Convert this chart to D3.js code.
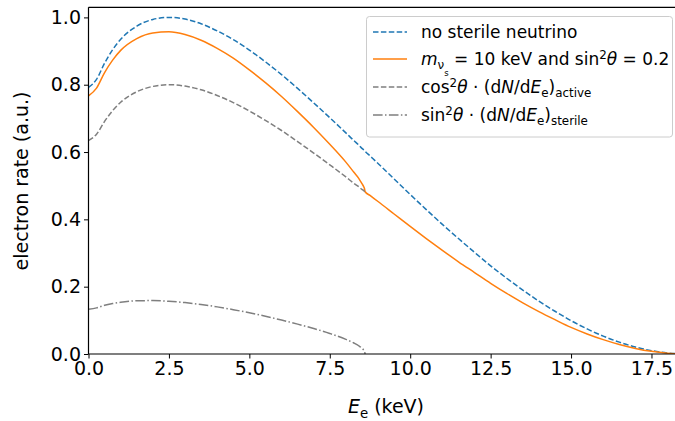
<!DOCTYPE html>
<html><head><meta charset="utf-8">
<script src="https://cdn.jsdelivr.net/npm/d3@7"></script>
<style>body{margin:0;background:#fff}svg{display:block;font-family:"DejaVu Sans",sans-serif}</style>
</head><body>
<svg id="c" width="675" height="421"></svg>
<script>
const energy = [0,0.25,0.5,0.75,1,1.5,2,2.5,3,3.5,4,4.5,5,5.5,6,6.5,7,7.5,8,8.25,8.4,8.5,8.55,8.58,8.6,8.75,9,9.5,10,10.5,11,11.5,12,12.5,13,13.5,14,14.5,15,15.5,16,16.5,17,17.5,18,18.6];
const noSterile = [0.792,0.816,0.864,0.904,0.935,0.974,0.994,1.000,0.995,0.981,0.960,0.934,0.903,0.868,0.830,0.789,0.746,0.702,0.657,0.634,0.621,0.611,0.607,0.604,0.602,0.5885,0.566,0.520,0.474,0.429,0.385,0.343,0.302,0.262,0.225,0.190,0.157,0.127,0.099,0.0745,0.0532,0.0352,0.0207,0.0099,0.0030,0];
const withSterile = [0.767,0.790,0.836,0.873,0.902,0.937,0.954,0.957,0.949,0.932,0.908,0.879,0.844,0.806,0.765,0.720,0.673,0.623,0.570,0.540,0.522,0.506,0.498,0.491,0.482,0.471,0.453,0.416,0.379,0.343,0.308,0.274,0.242,0.210,0.180,0.152,0.126,0.102,0.079,0.0596,0.0426,0.0282,0.0166,0.0079,0.0024,0];
const subEnergy = [0,0.25,0.5,0.75,1,1.5,2,2.5,3,3.5,4,4.5,5,5.5,6,6.5,7,7.5,8,8.25,8.4,8.5,8.55,8.58,8.6];
const activePart = [0.634,0.653,0.691,0.723,0.748,0.779,0.795,0.800,0.796,0.785,0.768,0.747,0.722,0.694,0.664,0.631,0.597,0.562,0.526,0.507,0.497,0.489,0.486,0.483,0.482];
const sterilePart = [0.133,0.137,0.1448,0.150,0.1538,0.158,0.1587,0.1567,0.1527,0.147,0.140,0.1317,0.1224,0.1121,0.1009,0.0888,0.0756,0.061,0.0436,0.0327,0.0245,0.0172,0.0121,0.0076,0];
const xTicks = [0,2.5,5,7.5,10,12.5,15,17.5];
const yTicks = [0,0.2,0.4,0.6,0.8,1.0];

const svg = d3.select("#c");
const L = 88.5, T = 7.3, B = 354;
const x = d3.scaleLinear().domain([0, 18.6]).range([L, L + 18.6 * 32.17]);
const y = d3.scaleLinear().domain([0, 1.03]).range([B, T]);

svg.append("defs").append("clipPath").attr("id","clip").append("rect")
  .attr("x", L).attr("y", T).attr("width", 700).attr("height", B - T);

const plot = svg.append("g").attr("clip-path","url(#clip)");
const line = (xs, ys) => d3.line().x((d,i)=>x(xs[i])).y((d,i)=>y(ys[i])).curve(d3.curveMonotoneX)(ys);

const series = [
  {xs: energy, ys: noSterile, color:"#1f77b4", dash:"5.5,2.4"},
  {xs: energy, ys: withSterile, color:"#ff7f0e", dash:null},
  {xs: subEnergy, ys: activePart, color:"#7f7f7f", dash:"5.5,2.4"},
  {xs: subEnergy, ys: sterilePart, color:"#7f7f7f", dash:"9.6,2.4,1.5,2.4"}
];
series.forEach(s => {
  plot.append("path").attr("d", line(s.xs, s.ys)).attr("fill","none")
    .attr("stroke", s.color).attr("stroke-width", 1.5)
    .attr("stroke-dasharray", s.dash);
});

// axes
const xa = svg.append("g").attr("transform", `translate(0,${B})`)
  .call(d3.axisBottom(x).tickValues(xTicks).tickFormat(d3.format(".1f")).tickSize(4.5).tickPadding(3));
const ya = svg.append("g").attr("transform", `translate(${L},0)`)
  .call(d3.axisLeft(y).tickValues(yTicks).tickFormat(d3.format(".1f")).tickSize(4.5).tickPadding(3));
[xa, ya].forEach(a => {
  a.select(".domain").remove();
  a.selectAll("line").attr("stroke","#000").attr("stroke-width",1);
  a.selectAll("text").attr("font-size", 19).attr("fill","#000").attr("font-family","DejaVu Sans");
});
// spines
svg.append("line").attr("x1",L).attr("x2",L).attr("y1",T).attr("y2",B).attr("stroke","#000").attr("stroke-width",1.2);
svg.append("line").attr("x1",L).attr("x2",675).attr("y1",B).attr("y2",B).attr("stroke","#000").attr("stroke-width",1.2);
svg.append("line").attr("x1",L).attr("x2",675).attr("y1",T).attr("y2",T).attr("stroke","#000").attr("stroke-width",1.2);

function rich(sel, parts, fs) {
  parts.forEach(p => {
    const t = sel.append("tspan").text(p.t);
    let size = fs, dy = 0;
    if (p.k === "sub") { size = fs*0.7; dy = fs*0.25; }
    if (p.k === "sup") { size = fs*0.7; dy = -fs*0.38; }
    if (p.k === "subsub") { size = fs*0.5; dy = fs*0.4; }
    t.attr("font-size", size);
    if (p.i) t.attr("font-style","italic");
    if (dy) t.attr("dy", dy);
    if (p.back) t.attr("dy", p.back);
  });
}

// axis labels
const xl = svg.append("text").attr("x", 386).attr("y", 413).attr("text-anchor","middle").attr("font-size",19);
rich(xl, [{t:"E", i:1},{t:"e", k:"sub"},{t:" (keV)", back:-19*0.25}], 19);
svg.append("text").attr("transform","translate(28,181) rotate(-90)").attr("text-anchor","middle")
  .attr("font-size",19).text("electron rate (a.u.)");

// legend
const lg = svg.append("g");
lg.append("rect").attr("x",366.5).attr("y",16.5).attr("width",306).attr("height",120.5).attr("rx",3)
  .attr("fill","#fff").attr("fill-opacity",0.8).attr("stroke","#ccc").attr("stroke-width",1);
const fs = 17;
const entries = [
  {s: series[0], y: 32, parts:[{t:"no sterile neutrino"}]},
  {s: series[1], y: 59, parts:[{t:"m", i:1},{t:"ν", k:"sub"},{t:"s", k:"subsub"},{t:" = 10 keV and sin", back:-fs*0.65},{t:"2", k:"sup"},{t:"θ", i:1, back:fs*0.38},{t:" = 0.2"}]},
  {s: series[2], y: 87, parts:[{t:"cos"},{t:"2", k:"sup"},{t:"θ", i:1, back:fs*0.38},{t:" ·  (d"},{t:"N", i:1},{t:"/d"},{t:"E", i:1},{t:"e", k:"sub"},{t:")", back:-fs*0.25},{t:"active", k:"sub"}]},
  {s: series[3], y: 115, parts:[{t:"sin"},{t:"2", k:"sup"},{t:"θ", i:1, back:fs*0.38},{t:" ·  (d"},{t:"N", i:1},{t:"/d"},{t:"E", i:1},{t:"e", k:"sub"},{t:")", back:-fs*0.25},{t:"sterile", k:"sub"}]}
];
entries.forEach(e => {
  lg.append("line").attr("x1",373).attr("x2",407).attr("y1",e.y).attr("y2",e.y)
    .attr("stroke",e.s.color).attr("stroke-width",1.5).attr("stroke-dasharray",e.s.dash);
  const t = lg.append("text").attr("x",421).attr("y",e.y+6).attr("font-size",fs);
  rich(t, e.parts, fs);
});
</script>
</body></html>
